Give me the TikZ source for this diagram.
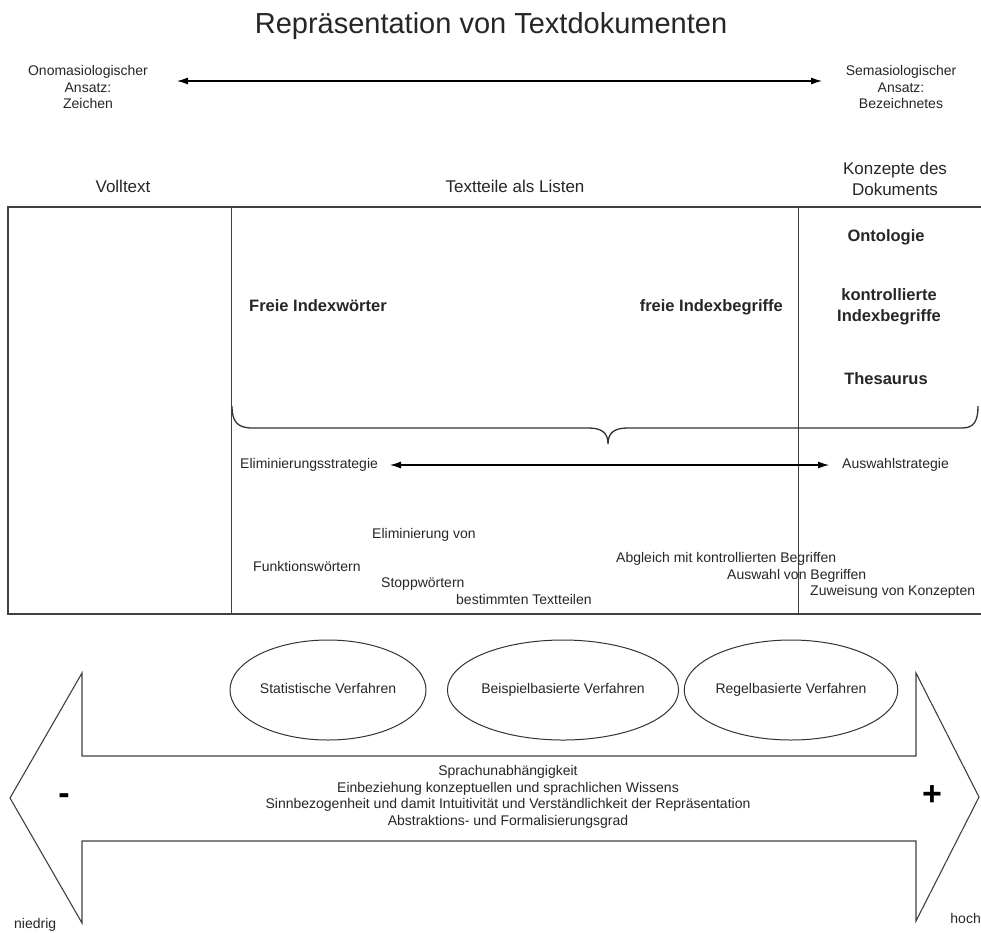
\documentclass[tikz,border=0pt]{standalone}
\usepackage{fontspec}
\setmainfont{Liberation Sans}
\usetikzlibrary{shapes.geometric,arrows.meta}
\begin{document}
\begin{tikzpicture}[x=1pt,y=-1pt,
  txtm/.style={inner sep=0pt, font=\fontsize{14}{16.5}\selectfont, text=black!85, align=center},
  txt/.style={txtm, text height=10pt, text depth=3pt},
  hdrm/.style={inner sep=0pt, font=\fontsize{17}{21}\selectfont, text=black!85, align=center},
  hdr/.style={hdrm, text height=12.5pt, text depth=3.5pt},
  bldm/.style={inner sep=0pt, font=\fontsize{16.5}{21}\selectfont\bfseries, text=black!85, align=center},
  bld/.style={bldm, text height=12pt, text depth=3.5pt},
  frame/.style={line width=1.2pt, draw=black!75},
  conn/.style={line width=1.1pt, {Latex[length=11pt,width=7pt]}-{Latex[length=11pt,width=7pt]}},
  oval/.style={ellipse, draw=black!80, line width=1pt, minimum width=196pt, minimum height=100pt, inner sep=0pt, font=\fontsize{14}{16.5}\selectfont, text=black!85, text height=10pt, text depth=3pt},
  bigarrow/.style={line width=1.1pt, draw=black!75}
]
\useasboundingbox (0,0) rectangle (981,932);

% title
\node[inner sep=0pt, font=\fontsize{29}{32}\selectfont, text=black!85, text height=21pt, text depth=6pt] (title) at (491,26) {Repräsentation von Textdokumenten};

% top arrow
\node[txtm] (ono) at (88,87) {Onomasiologischer\\Ansatz:\\Zeichen};
\node[txtm] (sema) at (901,87) {Semasiologischer\\Ansatz:\\Bezeichnetes};
\coordinate (tl) at (177,81);
\coordinate (tr) at (822,81);
\draw[conn] (tl) -- (tr);

% headers
\node[hdr] (hvoll) at (123,188) {Volltext};
\node[hdr] (hlist) at (515,188) {Textteile als Listen};
\node[hdrm] (hkonz) at (895,179) {Konzepte des\\Dokuments};

% frame
\draw[frame] (981,207) -- (8,207) -- (8,614) -- (981,614);
\draw[frame, line width=1pt] (231,207) -- (231,614);
\draw[frame, line width=1pt] (798,207) -- (798,614);

% bold labels
\node[bld, anchor=west] (freiw) at (249,307) {Freie Indexwörter};
\node[bld, anchor=east] (freib) at (783,307) {freie Indexbegriffe};
\node[bld] (onto) at (886,237) {Ontologie};
\node[bldm] (kontr) at (889,307) {kontrollierte\\Indexbegriffe};
\node[bld] (thes) at (886,380) {Thesaurus};

% brace
\draw[line width=1.3pt, black!80] (232,406) .. controls (232,421) and (237,428) .. (252,428)
  -- (588,428) .. controls (601,428) and (608,432) .. (608,444)
  .. controls (608,432) and (615,428) .. (628,428)
  -- (962,428) .. controls (974,428) and (978,421) .. (978,406);

% strategy arrow
\node[txt, anchor=west] (elim) at (240,465) {Eliminierungsstrategie};
\node[txt, anchor=west] (ausw) at (842,465) {Auswahlstrategie};
\coordinate (sl) at (390,465);
\coordinate (sr) at (829,465);
\draw[conn] (sl) -- (sr);

% lower texts
\node[txt, anchor=west] (elv) at (372,535) {Eliminierung von};
\node[txt, anchor=west] (funk) at (253,568) {Funktionswörtern};
\node[txt, anchor=west] (stop) at (381,584) {Stoppwörtern};
\node[txt, anchor=west] (best) at (456,601) {bestimmten Textteilen};
\node[txt, anchor=west] (abgl) at (616,559) {Abgleich mit kontrollierten Begriffen};
\node[txt, anchor=west] (ausb) at (727,576) {Auswahl von Begriffen};
\node[txt, anchor=west] (zuw) at (810,592) {Zuweisung von Konzepten};

% ellipses
\node[oval] (stat) at (328,690) {Statistische Verfahren};
\node[oval] (beis) at (563,690) {Beispielbasierte Verfahren};
\node[oval] (regl) at (791,690) {Regelbasierte Verfahren};

% big double arrow
\draw[bigarrow] (10,798) -- (82,673) -- (82,756) -- (916,756) -- (916,673) -- (979,797)
  -- (916,921) -- (916,841) -- (82,841) -- (82,923) -- cycle;

\node[txtm] (props) at (508,797) {Sprachunabhängigkeit\\Einbeziehung konzeptuellen und sprachlichen Wissens\\Sinnbezogenheit und damit Intuitivität und Verständlichkeit der Repräsentation\\Abstraktions- und Formalisierungsgrad};

\node[inner sep=0pt, font=\fontsize{34}{34}\selectfont\bfseries] (minus) at (64,799) {-};
\node[inner sep=0pt, font=\fontsize{34}{34}\selectfont\bfseries] (plus) at (932,796) {+};
\node[txt, anchor=west] (nied) at (14,925) {niedrig};
\node[txt, anchor=east] (hoch) at (981,920) {hoch};
\end{tikzpicture}
\end{document}
